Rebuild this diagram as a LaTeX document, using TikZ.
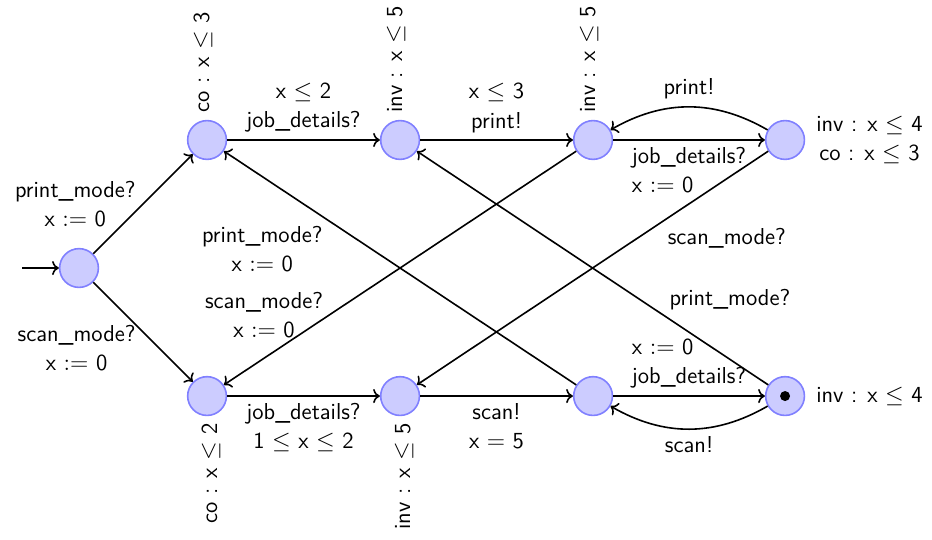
\documentclass[tikz,border=0pt]{standalone}
\usepackage{amsmath,amssymb}
\usetikzlibrary{arrows.meta,positioning}

\begin{document}
\begin{tikzpicture}[
  every node/.style={font=\sffamily\fontsize{11.5pt}{14.5pt}\selectfont},
  loc/.style={circle, draw=blue!50, fill=blue!20, thick, minimum size=6.8mm, inner sep=0pt},
  arr/.style={->, thick},
  lbl/.style={align=center},
  label distance=2pt,
  on grid
]
\useasboundingbox (0,0) rectangle (16.35,9.456);

\node[loc] (init) at (1.386,4.754) {};
\node[loc, above right=2.246cm and 2.246cm of init,
  label={[rotate=90, anchor=west]north:{co : x $\leq$ 3}}] (A) {};
\node[loc, right=3.386cm of A,
  label={[rotate=90, anchor=west]north:{inv : x $\leq$ 5}}] (B) {};
\node[loc, right=3.386cm of B,
  label={[rotate=90, anchor=west]north:{inv : x $\leq$ 5}}] (C) {};
\node[loc, right=3.368cm of C,
  label={[lbl]east:{inv : x $\leq$ 4\\co : x $\leq$ 3}}] (D) {};

\node[loc, below right=2.246cm and 2.246cm of init,
  label={[rotate=90, anchor=east]south:{co : x $\leq$ 2}}] (E) {};
\node[loc, right=3.386cm of E,
  label={[rotate=90, anchor=east]south:{inv : x $\leq$ 5}}] (F) {};
\node[loc, right=3.386cm of F] (G) {};
\node[loc, right=3.368cm of G,
  label={east:{inv : x $\leq$ 4}}] (H) {};
\fill (H) circle (2.5pt);

\coordinate[left=1cm of init] (start);
\draw[arr] (start) -- (init);

% initial choice
\draw[arr] (init) -- node[lbl, left] {print\_mode?\\x $:=$ 0} (A);
\draw[arr] (init) -- node[lbl, left, yshift=-0.28cm] {scan\_mode?\\x $:=$ 0} (E);

% print branch
\draw[arr] (A) -- node[lbl, above] {x $\leq$ 2\\job\_details?} (B);
\draw[arr] (B) -- node[lbl, above] {x $\leq$ 3\\print!} (C);
\draw[arr] (C) -- node[below, align=left] {job\_details?\\x $:=$ 0} (D);
\draw[arr] (D) to[bend right=30] node[above] {print!} (C);

% scan branch
\draw[arr] (E) -- node[lbl, below] {job\_details?\\1 $\leq$ x $\leq$ 2} (F);
\draw[arr] (F) -- node[lbl, below] {scan!\\x $=$ 5} (G);
\draw[arr] (G) -- node[above, align=left] {x $:=$ 0\\job\_details?} (H);
\draw[arr] (H) to[bend left=30] node[below] {scan!} (G);

% mode switches
\draw[arr] (G) -- node[lbl, pos=0.891, yshift=-1.28cm] {print\_mode?\\x $:=$ 0} (A);
\draw[arr] (C) -- node[lbl, pos=0.886, yshift=0.75cm] {scan\_mode?\\x $:=$ 0} (E);
\draw[arr] (D) -- node[pos=0.118, yshift=-1.05cm] {scan\_mode?} (F);
\draw[arr] (H) -- node[pos=0.109, yshift=1.05cm] {print\_mode?} (B);
\end{tikzpicture}
\end{document}
